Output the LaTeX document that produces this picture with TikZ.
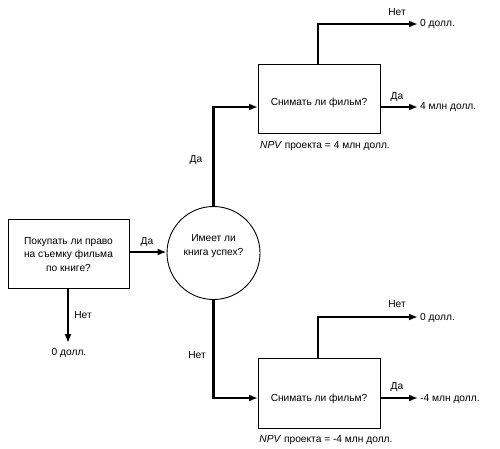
\documentclass[tikz,border=0pt]{standalone}
\usepackage{fontspec}
\setmainfont{Liberation Sans}
\usetikzlibrary{arrows.meta}
\begin{document}
\begin{tikzpicture}[x=1pt,y=-1pt,
  box/.style={draw,line width=0.9pt,inner sep=0pt,anchor=north west},
  lbl/.style={font=\fontsize{10.2}{13.5}\selectfont,inner sep=0pt},
  flow/.style={line width=2.6pt,-{Latex[length=9pt,width=7pt]}},
  seg/.style={line width=2.6pt}]
\useasboundingbox (0,0) rectangle (500,448);
% boxes
\node[box,minimum width=121pt,minimum height=69pt] (buy) at (8,219) {};
\node[lbl,align=center] (buyt) at (68.5,254.5) {Покупать ли право\\на съемку фильма\\по книге?};
\node[draw,line width=0.9pt,circle,minimum size=93pt,inner sep=0pt] (succ) at (213.5,253) {};
\node[lbl,align=center] (succt) at (213.5,246) {Имеет ли\\книга успех?};
\node[box,minimum width=122pt,minimum height=69pt] (top) at (258,64) {};
\node[lbl] (topt) at (319,103) {Снимать ли фильм?};
\node[box,minimum width=122pt,minimum height=70pt] (bot) at (258,358) {};
\node[lbl] (bott) at (319,399) {Снимать ли фильм?};
% outcome labels
\node[lbl,anchor=west] (z1) at (420,24) {0 долл.};
\node[lbl,anchor=west] (p4) at (420,107) {4 млн долл.};
\node[lbl,anchor=west] (z2) at (420,318) {0 долл.};
\node[lbl,anchor=west] (m4) at (420,399) {-4 млн долл.};
\node[lbl] (z0) at (69,353) {0 долл.};
\node[lbl] (npv1) at (325,146) {\textit{NPV} проекта = 4 млн долл.};
\node[lbl] (npv2) at (326,440) {\textit{NPV} проекта = -4 млн долл.};
% coordinates
\coordinate (a1) at (213.5,107);
\coordinate (a2) at (213.5,398);
\coordinate (t1) at (318,24);
\coordinate (t2) at (318,317);
\coordinate (e1) at (418,24);
\coordinate (e2) at (418,107);
\coordinate (e3) at (418,317);
\coordinate (e4) at (418,398);
\coordinate (e0) at (68,343);
% connectors
\draw[flow] (buy.east |- 0,252) -- (succ.west |- 0,252);
\draw[flow] (succ.north) -- (a1) -- (top.west |- a1);
\draw[flow] (succ.south) -- (a2) -- (bot.west |- a2);
\draw[flow] (buy.south -| e0) -- (e0);
\draw[flow] (t1 |- top.north) -- (t1) -- (e1);
\draw[flow] (t2 |- bot.north) -- (t2) -- (e3);
\draw[flow] (top.east |- e2) -- (e2);
\draw[flow] (bot.east |- e4) -- (e4);
% branch labels
\node[lbl] (l1) at (147,242) {Да};
\node[lbl] (l2) at (196,160) {Да};
\node[lbl] (l3) at (197,355) {Нет};
\node[lbl] (l4) at (83,315) {Нет};
\node[lbl] (l5) at (397,12) {Нет};
\node[lbl] (l6) at (397,97) {Да};
\node[lbl] (l7) at (397,304) {Нет};
\node[lbl] (l8) at (397,387) {Да};
\end{tikzpicture}
\end{document}
